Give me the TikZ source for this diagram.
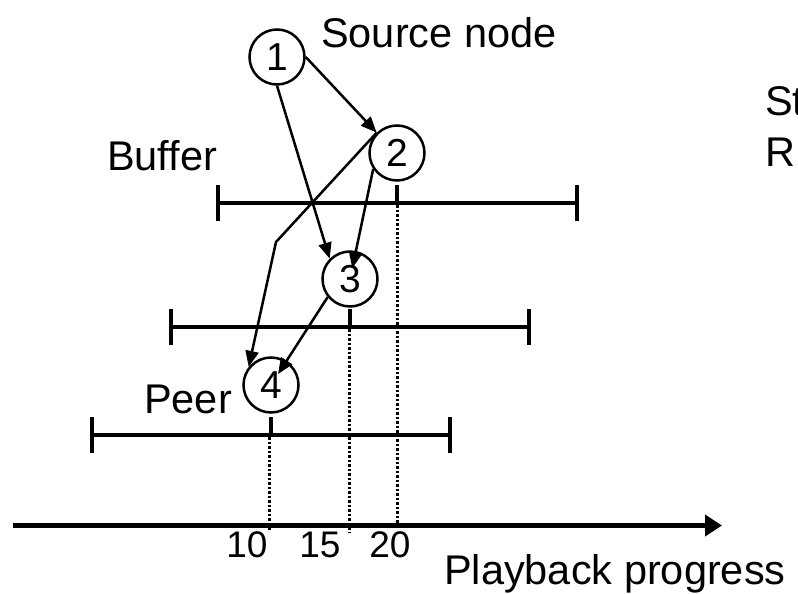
\documentclass[tikz,border=0pt]{standalone}
\usepackage{fontspec}
\setmainfont{Liberation Sans}
\usetikzlibrary{arrows.meta}
\begin{document}
\begin{tikzpicture}[x=1pt,y=-1pt,
 peer/.style={circle,draw,line width=2.5pt,minimum size=55pt,inner sep=0pt,font=\fontsize{39}{42}\selectfont},
 lbl/.style={anchor=base west,inner sep=0pt,font=\fontsize{41.5}{48}\selectfont},
 num/.style={anchor=base,inner sep=0pt,font=\fontsize{37}{40}\selectfont},
 arr/.style={line width=2.5pt,-{Triangle[length=16pt,width=13pt]}},
 bar/.style={line width=4pt},
 dots/.style={line width=3pt,dash pattern=on 2.5pt off 2pt}]
\useasboundingbox (0,0) rectangle (798,594);
% buffers
\draw[bar] (218,185) -- (218,221) (218,203) -- (577,203) (577,185) -- (577,221) (397,185) -- (397,203);
\draw[bar] (171,309) -- (171,345) (171,327) -- (529,327) (529,309) -- (529,345) (350,309) -- (350,327);
\draw[bar] (92,417) -- (92,453) (92,435) -- (450,435) (450,417) -- (450,453) (271,417) -- (271,435);
% dotted guides
\draw[dots] (397,205) -- (397,526);
\draw[dots] (349,329) -- (349,533);
\draw[dots] (269,437) -- (269,531);
% axis
\draw[line width=5.5pt,-{Triangle[length=17pt,width=21pt]}] (13,525.5) -- (722,525.5);
% peers
\node[peer] (n1) at (277,57) {1};
\node[peer] (n2) at (397,153) {2};
\node[peer] (n3) at (350,279) {3};
\node[peer] (n4) at (271,385) {4};
% connectors
\draw[arr] (n1.east) -- (n2.north west);
\draw[arr] (n1.south) -- (n3.north west);
\draw[arr,shorten >=11pt] (n2.214) -- (n3.center);
\draw[arr,shorten >=13pt] (n3.219) -- (n4.center);
\coordinate (bend) at (276,242);
\draw[arr] (n2.north west) -- (bend) -- (n4.141);
% labels
\node[lbl] (src) at (321,48) {Source node};
\node[lbl] (buf) at (107,170) {Buffer};
\node[lbl] (peerlbl) at (144,413) {Peer};
\node[lbl] (st) at (765,115) {St};
\node[lbl] (r) at (765,166) {R};
\node[lbl] (pb) at (444,584) {Playback progress};
\node[num] (t10) at (247,557) {10};
\node[num] (t15) at (320,557) {15};
\node[num] (t20) at (390,557) {20};
\end{tikzpicture}
\end{document}
